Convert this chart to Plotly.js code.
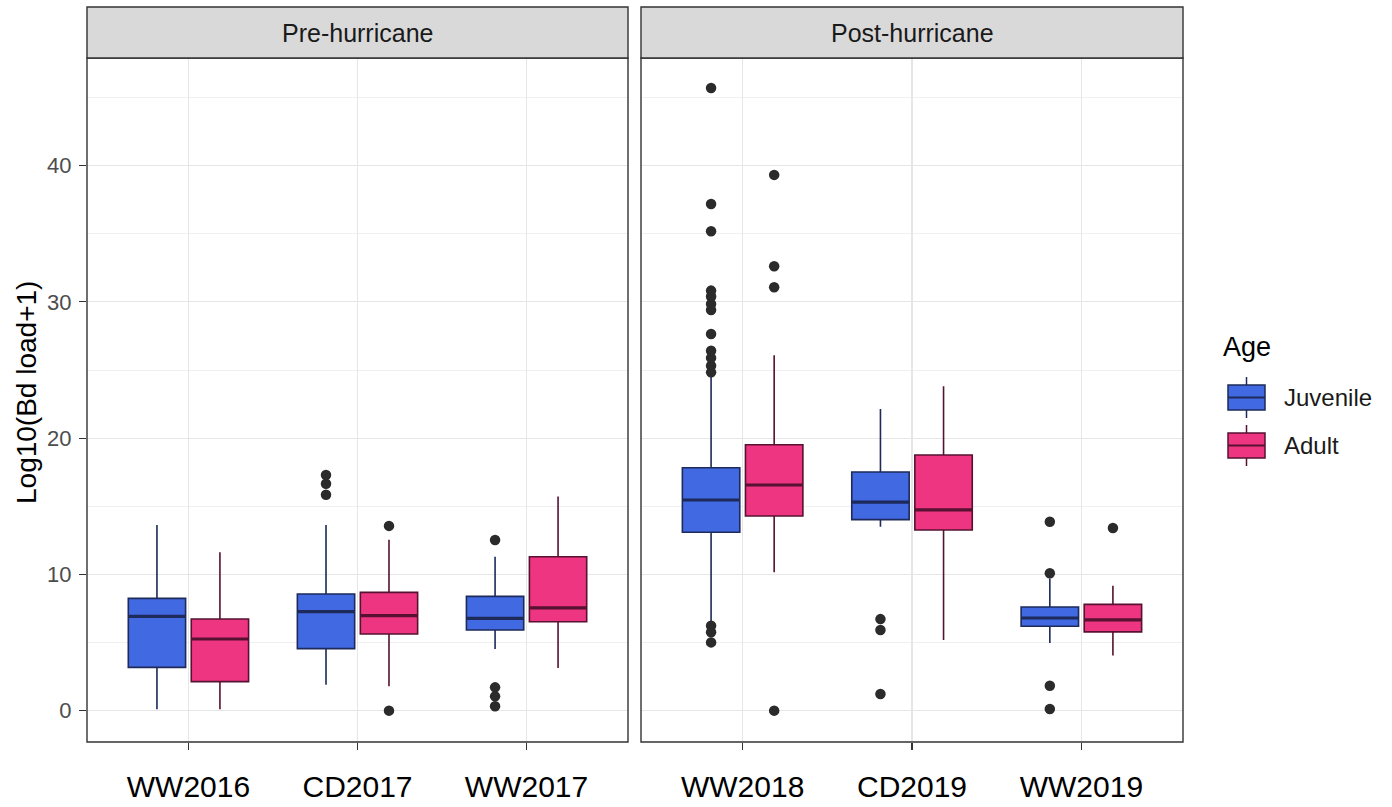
<!DOCTYPE html>
<html><head><meta charset="utf-8">
<script src="https://cdn.plot.ly/plotly-3.0.1.min.js"></script>
<style>html,body{margin:0;padding:0;background:#fff}#chart{width:1392px;height:807px}</style>
</head><body><div id="chart"></div>
<script>
// ---------------- data ----------------
const preSites  = ['WW2016', 'CD2017', 'WW2017'];
const postSites = ['WW2018', 'CD2019', 'WW2019'];
const ageGroups = ['Juvenile', 'Adult'];
const panelNames = ['Pre-hurricane', 'Post-hurricane'];

// Juvenile, pre-hurricane
const juvPreLow  = [0.10, 1.91, 4.53];
const juvPreQ1   = [3.18, 4.55, 5.92];
const juvPreMed  = [6.92, 7.27, 6.78];
const juvPreQ3   = [8.24, 8.56, 8.39];
const juvPreHigh = [13.63, 13.63, 11.30];
const juvPreOut  = [[], [17.30, 16.65, 15.85], [12.53, 1.71, 1.05, 0.32]];

// Adult, pre-hurricane
const adPreLow  = [0.10, 1.79, 3.13];
const adPreQ1   = [2.13, 5.63, 6.53];
const adPreMed  = [5.26, 6.97, 7.54];
const adPreQ3   = [6.73, 8.68, 11.30];
const adPreHigh = [11.62, 12.55, 15.71];
const adPreOut  = [[], [13.56, 0.0], []];

// Juvenile, post-hurricane
const juvPostLow  = [6.40, 13.50, 4.97];
const juvPostQ1   = [13.09, 14.02, 6.19];
const juvPostMed  = [15.46, 15.31, 6.80];
const juvPostQ3   = [17.83, 17.52, 7.61];
const juvPostHigh = [24.60, 22.14, 9.70];
const juvPostOut  = [[45.70, 37.19, 35.18, 30.83, 30.39, 29.85, 29.41, 27.65, 26.42, 25.89, 25.32, 24.83, 6.24, 5.75, 5.01],
                     [6.72, 5.92, 1.22],
                     [13.87, 10.08, 1.83, 0.12]];

// Adult, post-hurricane
const adPostLow  = [10.15, 5.19, 4.04];
const adPostQ1   = [14.29, 13.26, 5.78];
const adPostMed  = [16.56, 14.73, 6.66];
const adPostQ3   = [19.52, 18.76, 7.80];
const adPostHigh = [26.08, 23.80, 9.17];
const adPostOut  = [[39.32, 32.61, 31.07, 0.0], [], [13.41]];

const yTicks = [0, 10, 20, 30, 40];

// ---------------- style ----------------
const fillCol = {Juvenile: '#4169e1', Adult: '#ee3582'};
const lineCol = {Juvenile: '#1d2a5a', Adult: '#561230'};
const BOXGAP = 0.255, GROUPGAP = 0.09;
const groupFrac = 1 - BOXGAP;
const slotOffset = [-groupFrac / 4, groupFrac / 4];
const halfBox = 0.25 * groupFrac * (1 - GROUPGAP);

const W = 1392, H = 807, PL = 87, PR = 1183, PT = 58, PB = 742;
const pw = PR - PL, ph = PB - PT;
const px = v => (v - PL) / pw;
const py = v => (PB - v) / ph;
const FONT = 'Liberation Sans, Arial, sans-serif';

const traces = [];
function addGroup(sites, xa, ya, age, idx, low, q1, med, q3, high, outs) {
  const pos = sites.map((s, i) => i);
  traces.push({
    type: 'box', x: pos, q1: q1, median: med, q3: q3, lowerfence: low, upperfence: high,
    name: age, offsetgroup: age, xaxis: xa, yaxis: ya, boxpoints: false,
    fillcolor: fillCol[age], line: {color: lineCol[age], width: 1.6}, whiskerwidth: 0,
    showlegend: false, hoverinfo: 'y'
  });
  // thicker median line (as in ggplot)
  const mx = [], my = [];
  pos.forEach((p, i) => {
    mx.push(p + slotOffset[idx] - halfBox, p + slotOffset[idx] + halfBox, null);
    my.push(med[i], med[i], null);
  });
  traces.push({type: 'scatter', mode: 'lines', x: mx, y: my, xaxis: xa, yaxis: ya,
    line: {color: lineCol[age], width: 3.2}, showlegend: false, hoverinfo: 'skip'});
  // outliers
  const ox = [], oy = [];
  outs.forEach((arr, i) => arr.forEach(v => { ox.push(pos[i] + slotOffset[idx]); oy.push(v); }));
  traces.push({type: 'scatter', mode: 'markers', x: ox, y: oy, xaxis: xa, yaxis: ya,
    marker: {color: '#2b2b2b', size: 10.5}, showlegend: false, hoverinfo: 'y'});
}
addGroup(preSites, 'x', 'y', 'Juvenile', 0, juvPreLow, juvPreQ1, juvPreMed, juvPreQ3, juvPreHigh, juvPreOut);
addGroup(preSites, 'x', 'y', 'Adult', 1, adPreLow, adPreQ1, adPreMed, adPreQ3, adPreHigh, adPreOut);
addGroup(postSites, 'x2', 'y2', 'Juvenile', 0, juvPostLow, juvPostQ1, juvPostMed, juvPostQ3, juvPostHigh, juvPostOut);
addGroup(postSites, 'x2', 'y2', 'Adult', 1, adPostLow, adPostQ1, adPostMed, adPostQ3, adPostHigh, adPostOut);

const xCommon = {
  range: [-0.6, 2.6], tickvals: [0, 1, 2], showgrid: true, gridcolor: '#e6e6e6', gridwidth: 1.2,
  zeroline: false, showline: false, ticks: 'outside', ticklen: 7, tickwidth: 1.2, tickcolor: '#333',
  tickfont: {family: 'Liberation Sans Narrow, Arial Narrow, Liberation Sans, sans-serif', size: 30, color: '#000'},
  ticklabelstandoff: 11, fixedrange: true
};
const yCommon = {
  range: [-2.3, 47.9], tickvals: yTicks, showgrid: true, gridcolor: '#e6e6e6', gridwidth: 1.2,
  minor: {tickmode: 'linear', tick0: 0, dtick: 5, showgrid: true, gridcolor: '#f0f0f0', gridwidth: 1, ticks: ''},
  zeroline: false, showline: false, fixedrange: true
};

const layout = {
  width: W, height: H,
  margin: {l: PL, r: W - PR, t: PT, b: H - PB},
  paper_bgcolor: '#fff', plot_bgcolor: '#fff',
  boxmode: 'group', boxgap: BOXGAP, boxgroupgap: GROUPGAP,
  showlegend: false,
  xaxis: Object.assign({}, xCommon, {domain: [0, px(628)], anchor: 'y', ticktext: preSites}),
  xaxis2: Object.assign({}, xCommon, {domain: [px(641), 1], anchor: 'y2', ticktext: postSites}),
  yaxis: Object.assign({}, yCommon, {domain: [0, 1], anchor: 'x', ticks: 'outside', ticklen: 7, tickwidth: 1.2,
    tickcolor: '#333', ticklabelstandoff: 3, tickfont: {family: FONT, size: 22, color: '#4d4d4d'}}),
  yaxis2: Object.assign({}, yCommon, {domain: [0, 1], anchor: 'x2', matches: 'y', showticklabels: false, ticks: ''}),
  shapes: [],
  annotations: []
};

// panel borders + strips
const stripH = (PT - 7) / ph;
[['x', 'y'], ['x2', 'y2']].forEach(([xa, ya], i) => {
  layout.shapes.push({type: 'rect', xref: xa + ' domain', yref: ya + ' domain', x0: 0, x1: 1, y0: 0, y1: 1,
    line: {color: '#333', width: 1.4}, fillcolor: 'rgba(0,0,0,0)', layer: 'above'});
  layout.shapes.push({type: 'rect', xref: xa + ' domain', yref: ya + ' domain', x0: 0, x1: 1, y0: 1, y1: 1 + stripH,
    line: {color: '#333', width: 1.4}, fillcolor: '#d9d9d9', layer: 'above'});
  layout.annotations.push({xref: xa + ' domain', yref: ya + ' domain', x: 0.5, y: 1 + stripH / 2,
    xanchor: 'center', yanchor: 'middle', showarrow: false, text: panelNames[i],
    font: {family: FONT, size: 25, color: '#1a1a1a'}});
});

// y axis title
layout.annotations.push({xref: 'paper', yref: 'paper', x: px(26), y: py(393), xanchor: 'center', yanchor: 'middle',
  textangle: -90, showarrow: false, text: 'Log10(Bd load+1)',
  font: {family: FONT, size: 28, color: '#000'}});

// legend (ggplot style keys)
layout.annotations.push({xref: 'paper', yref: 'paper', x: px(1221), y: py(347), xanchor: 'left', yanchor: 'middle',
  showarrow: false, text: 'Age', font: {family: FONT, size: 27, color: '#000'}});
const keyTop = [385, 433];
ageGroups.forEach((age, i) => {
  const t = keyTop[i], b = t + 25, m = t + 12.5;
  layout.shapes.push({type: 'line', xref: 'paper', yref: 'paper', x0: px(1246.5), x1: px(1246.5), y0: py(t - 8), y1: py(b + 8),
    line: {color: lineCol[age], width: 1.5}});
  layout.shapes.push({type: 'rect', xref: 'paper', yref: 'paper', x0: px(1228), x1: px(1265), y0: py(b), y1: py(t),
    line: {color: lineCol[age], width: 1.5}, fillcolor: fillCol[age]});
  layout.shapes.push({type: 'line', xref: 'paper', yref: 'paper', x0: px(1228), x1: px(1265), y0: py(m), y1: py(m),
    line: {color: lineCol[age], width: 2.2}});
  layout.annotations.push({xref: 'paper', yref: 'paper', x: px(1282), y: py(m), xanchor: 'left', yanchor: 'middle',
    showarrow: false, text: age, font: {family: FONT, size: 24, color: '#1a1a1a'}});
});

Plotly.newPlot('chart', traces, layout, {staticPlot: true, displayModeBar: false});
</script>
</body></html>
